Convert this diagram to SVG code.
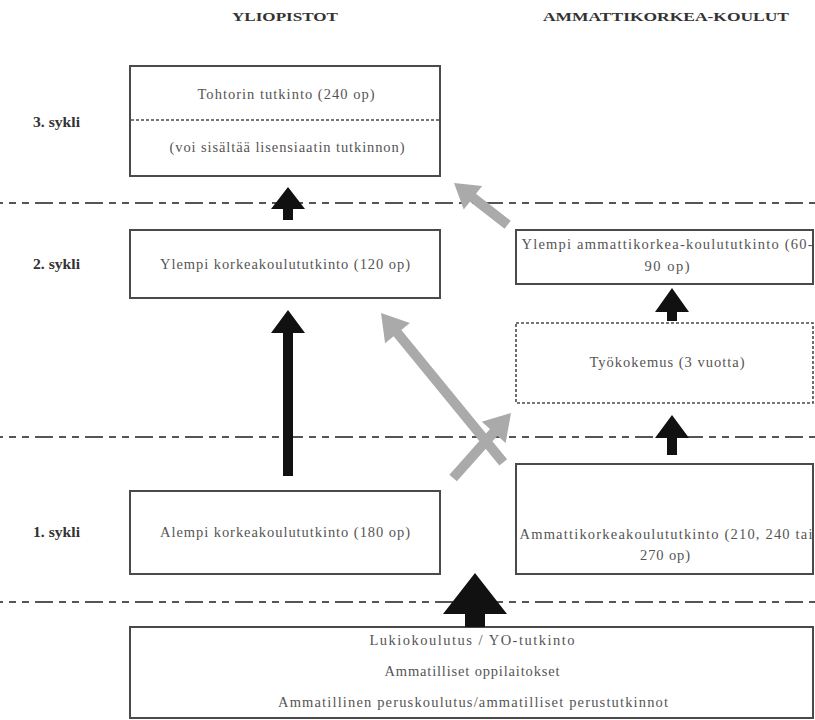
<svg xmlns="http://www.w3.org/2000/svg" width="815" height="720" viewBox="0 0 815 720">
<style>
.box{fill:#fff;stroke:#4a4a4a;stroke-width:2}
.dbox{fill:#fff;stroke:#4a4a4a;stroke-width:1.6;stroke-dasharray:3 2}
.t{font-family:"Liberation Serif",serif;font-size:14.5px;fill:#555;text-anchor:middle}
.h{font-family:"Liberation Serif",serif;font-size:12.5px;font-weight:bold;fill:#333;text-anchor:middle}
.lab{font-family:"Liberation Serif",serif;font-size:14px;font-weight:bold;fill:#333}
.sep{stroke:#555;stroke-width:2.2;stroke-dasharray:18 6 7 6 7 6;stroke-dashoffset:15;fill:none}
.blk{fill:#111}
.gry{fill:#aaa}
</style>
<rect width="815" height="720" fill="#fff"/>

<text class="h" x="285" y="21" textLength="106" lengthAdjust="spacingAndGlyphs">YLIOPISTOT</text>
<text class="h" x="666" y="21" textLength="246" lengthAdjust="spacingAndGlyphs">AMMATTIKORKEA-KOULUT</text>

<text class="lab" x="33" y="127" textLength="47" lengthAdjust="spacingAndGlyphs">3. sykli</text>
<text class="lab" x="33" y="269" textLength="47" lengthAdjust="spacingAndGlyphs">2. sykli</text>
<text class="lab" x="33" y="537" textLength="47" lengthAdjust="spacingAndGlyphs">1. sykli</text>

<line class="sep" x1="0" y1="203" x2="815" y2="203"/>
<line class="sep" x1="0" y1="437" x2="815" y2="437"/>
<line class="sep" x1="0" y1="602" x2="815" y2="602"/>

<g id="tohtori">
<rect class="box" x="130" y="66" width="310" height="110"/>
<line x1="131" y1="120" x2="439" y2="120" stroke="#4a4a4a" stroke-width="1.6" stroke-dasharray="3 2"/>
<text class="t" x="286" y="99" textLength="177" lengthAdjust="spacing">Tohtorin tutkinto (240 op)</text>
<text class="t" x="287" y="152" textLength="235" lengthAdjust="spacing">(voi sisältää lisensiaatin tutkinnon)</text>
</g>

<g id="ylempi-kk">
<rect class="box" x="130" y="230" width="310" height="68"/>
<text class="t" x="285" y="269" textLength="250" lengthAdjust="spacing">Ylempi korkeakoulututkinto (120 op)</text>
</g>

<g id="ylempi-amk">
<rect class="box" x="516" y="230" width="297" height="54"/>
<text class="t" x="667" y="249" textLength="291" lengthAdjust="spacing">Ylempi ammattikorkea-koulututkinto (60-</text>
<text class="t" x="667" y="271" textLength="45" lengthAdjust="spacing">90 op)</text>
</g>

<g id="tyokokemus">
<rect class="dbox" x="516" y="323" width="297" height="80"/>
<text class="t" x="667" y="367" textLength="155" lengthAdjust="spacing">Työkokemus (3 vuotta)</text>
</g>

<g id="alempi-kk">
<rect class="box" x="130" y="491" width="310" height="83"/>
<text class="t" x="285" y="537" textLength="250" lengthAdjust="spacing">Alempi korkeakoulututkinto (180 op)</text>
</g>

<g id="amk">
<rect class="box" x="516" y="464" width="297" height="110"/>
<text class="t" x="666" y="539" textLength="293" lengthAdjust="spacing">Ammattikorkeakoulututkinto (210, 240 tai</text>
<text class="t" x="665" y="560" textLength="50" lengthAdjust="spacing">270 op)</text>
</g>

<g id="pohja">
<rect class="box" x="130" y="627" width="683" height="91"/>
<text class="t" x="472" y="645" textLength="205" lengthAdjust="spacing">Lukiokoulutus / YO-tutkinto</text>
<text class="t" x="472" y="676" textLength="175" lengthAdjust="spacing">Ammatilliset oppilaitokset</text>
<text class="t" x="473" y="707" textLength="390" lengthAdjust="spacing">Ammatillinen peruskoulutus/ammatilliset perustutkinnot</text>
</g>

<g id="connectors">
<polygon class="blk" points="288,187 305,209 293,209 293,220 283,220 283,209 271,209"/>
<polygon class="blk" points="288,310 305,333 293,333 293,476 283,476 283,333 271,333"/>
<polygon class="blk" points="672,288 689,312 677,312 677,321 667,321 667,312 655,312"/>
<polygon class="blk" points="672,415 689,438 677,438 677,455 667,455 667,438 655,438"/>
<polygon class="blk" points="475,573 507,614 485,614 485,627 465,627 465,614 443,614"/>
<polygon class="gry" points="0,0 -24,-15 -24,-5 -68,-5 -68,5 -24,5 -24,15" transform="translate(454,183) rotate(-142.1)"/>
<polygon class="gry" points="0,0 -26,-16 -26,-5 -193,-5 -193,5 -26,5 -26,16" transform="translate(381,313) rotate(-129.3)"/>
<polygon class="gry" points="0,0 -26,-16 -26,-5 -87,-5 -87,5 -26,5 -26,16" transform="translate(511,413) rotate(-48.3)"/>
</g>
</svg>
